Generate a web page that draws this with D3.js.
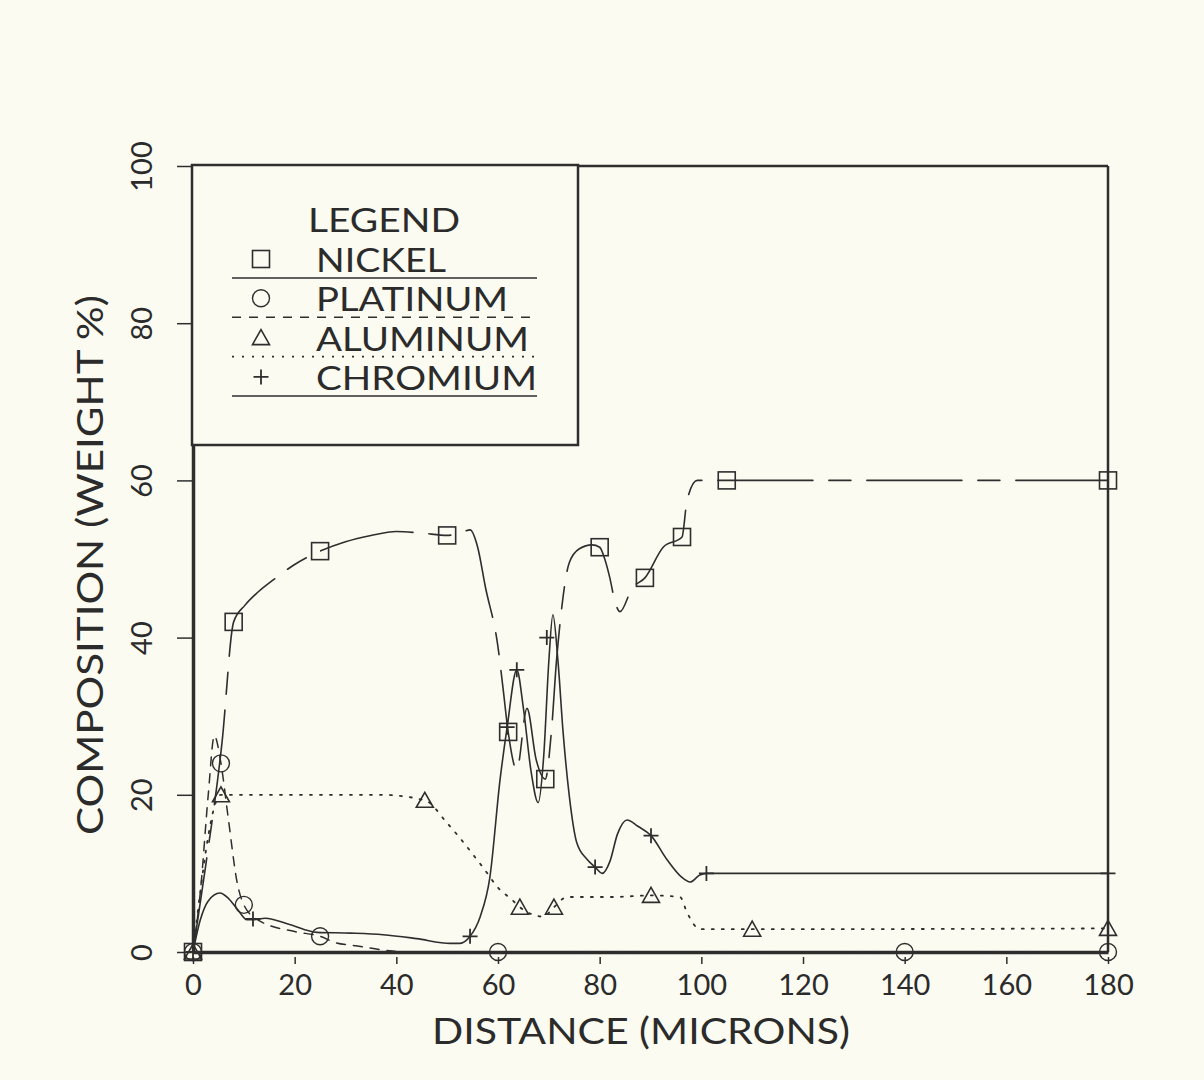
<!DOCTYPE html>
<html>
<head>
<meta charset="utf-8">
<script src="https://cdn.jsdelivr.net/npm/d3@7"></script>
<style>
  html, body { margin: 0; padding: 0; background: #fbfbf1; }
  svg { display: block; }
  text { font-family: Lato, "Noto Sans", sans-serif; fill: #2b2b2b; }
</style>
</head>
<body>
<svg id="chart" width="1204" height="1080"></svg>
<script>
// ---------- data ----------
const xTicks = [0, 20, 40, 60, 80, 100, 120, 140, 160, 180];
const yTicks = [0, 20, 40, 60, 80, 100];
const seriesNames = ["NICKEL", "PLATINUM", "ALUMINUM", "CHROMIUM"];

// measured marker points  [distance, weight %]
const nickelMarkers   = [[0,0],[8,42],[25,51],[50,53],[62,28],[69.3,22],[80,51.5],[88.9,47.6],[96.2,52.8],[105,60],[180,60]];
const platinumMarkers = [[0,0],[5.5,24],[10,6],[25,2],[60,0],[140,0],[180,0]];
const aluminumMarkers = [[0,0],[5.5,20],[45.6,19.3],[64.3,5.7],[71,5.7],[90.1,7.2],[110,2.9],[180,3]];
const chromiumMarkers = [[0,0],[11.8,4.2],[54.5,2],[61.8,28.6],[63.7,35.9],[69.6,40],[79.1,10.8],[90.1,14.8],[101,10],[180,10]];

// traced curve points  [distance, weight %]
const nickelCurve = [[0,0],[2.5,11],[5.7,26.6],[8,42],[10.2,44.1],[12.8,45.8],[15.7,47.3],[20,49.3],[25,51],[30,52.2],[35,53],[40,53.5],[45,53.3],[50,53],
  [52.9,53.4],[54.5,53.7],[56,51.5],[57.5,46.5],[60,38.8],[61,33.5],[62,28],[63.7,23.2],[65.7,31],[67.5,24.5],[69.3,22],
  [70.5,28],[71.5,37],[72.4,43],[74,49.5],[76,51.3],[78.5,51.8],[80,51.5],[81,50],[82,47.6],[83,44.6],[84,43.3],[86.4,46.3],
  [88.9,47.6],[92.5,51.5],[96.2,52.8],[97.2,57.5],[99.2,60],[105,60],[140,60],[180,60]];
const platinumCurve = [[0,0],[1.5,8],[3,20],[4.2,27.5],[5.5,24],[6.9,17.2],[8.7,8.8],[10,6],[13,4],[20,2.6],[25,2],[28,1.2],[32,0.8],[37,0.3],[42,0],[60,0],[140,0],[180,0]];
const aluminumCurve = [[0,0],[5.5,20],[20,20],[37,20],[45.6,19.3],[50,16.4],[57,10.8],[60.4,7.9],[62.5,6.8],[64.3,5.7],[68.9,4.5],[71,5.7],
  [73.6,7],[82.6,7],[90.1,7.2],[95.8,7],[97.2,5],[99.7,2.9],[110,2.9],[180,3]];
const chromiumCurve = [[0,0],[1.4,4],[3,6.5],[5.3,7.5],[7,6.8],[8.9,5.3],[10.6,4.1],[11.8,4.1],[14.2,4.3],[19,3.5],[24.4,2.5],[31,2.4],[37.4,2.2],
  [44,1.7],[50.6,1.1],[52.5,1.1],[54.5,2],[56.5,4.5],[58.4,9.5],[60.4,21.9],[61.8,28.6],[63.7,35.9],[65,31],[66.5,23],[67.9,19],[69,25],
  [70,37],[70.8,42.9],[71.8,37],[72.8,28],[74,20],[75.5,13.9],[77.5,11.8],[79.1,10.8],[80.5,10],[82,11.5],[83.5,15],[85.4,16.8],[87.5,16],
  [90.1,14.8],[93.3,11.7],[96,9.6],[97.8,8.9],[99.7,9.8],[101,10],[140,10],[180,10]];

// ---------- layout ----------
const svg = d3.select("#chart");
const X0 = 193, X1 = 1108, Y0 = 952, Y1 = 166;
const ink = "#2e2e2e";

const x = d3.scaleLinear().domain([0, 180]).range([X0, X1]);
const y = d3.scaleLinear().domain([0, 100]).range([Y0, Y1]);

// frame (top and right)
svg.append("line").attr("x1", X0).attr("x2", X1).attr("y1", Y1).attr("y2", Y1).attr("stroke", ink).attr("stroke-width", 2.5);
svg.append("line").attr("x1", X1).attr("x2", X1).attr("y1", Y1).attr("y2", Y0).attr("stroke", ink).attr("stroke-width", 2.5);

// axes
const xAxis = svg.append("g").attr("transform", `translate(0,${Y0})`)
  .call(d3.axisBottom(x).tickValues(xTicks).tickSize(12).tickPadding(10).tickSizeOuter(0));
const yAxis = svg.append("g").attr("transform", `translate(${X0},0)`)
  .call(d3.axisLeft(y).tickValues(yTicks).tickSize(16).tickSizeOuter(0));
[xAxis, yAxis].forEach(g => {
  g.select(".domain").attr("stroke", ink).attr("stroke-width", 3.5);
  g.selectAll(".tick line").attr("stroke", ink).attr("stroke-width", 1.5);
  g.selectAll(".tick text").style("font-family", "Lato, sans-serif").style("font-size", "29px").attr("fill", "#2b2b2b");
});
xAxis.selectAll(".tick line").attr("y1", 5);
xAxis.selectAll(".tick text").attr("dy", "0.71em");
yAxis.selectAll(".tick text")
  .attr("text-anchor", "middle").attr("dominant-baseline", "central")
  .attr("dy", null).attr("x", 0).attr("y", 0)
  .attr("transform", "translate(-53,0) rotate(-90)");

// axis titles
svg.append("text").attr("x", 641).attr("y", 1044).attr("text-anchor", "middle")
  .attr("textLength", 418).attr("lengthAdjust", "spacingAndGlyphs")
  .style("font-size", "37px").text("DISTANCE (MICRONS)");
svg.append("text").attr("transform", "translate(103,565) rotate(-90)").attr("text-anchor", "middle")
  .attr("textLength", 540).attr("lengthAdjust", "spacingAndGlyphs")
  .style("font-size", "37px").text("COMPOSITION (WEIGHT %)");

// ---------- lines ----------
const line = d3.line().x(d => x(d[0])).y(d => y(d[1])).curve(d3.curveMonotoneX);
const styles = {
  NICKEL:   { dash: "95,16,22,16", width: 1.6 },
  PLATINUM: { dash: "9,8", width: 1.5 },
  ALUMINUM: { dash: "2,8", width: 1.8 },
  CHROMIUM: { dash: null, width: 1.6 }
};
const curves = [nickelCurve, platinumCurve, aluminumCurve, chromiumCurve];
const markers = [nickelMarkers, platinumMarkers, aluminumMarkers, chromiumMarkers];

const plot = svg.append("g");
seriesNames.forEach((name, i) => {
  plot.append("path").datum(curves[i]).attr("d", line).attr("fill", "none")
    .attr("stroke", ink).attr("stroke-width", styles[name].width)
    .attr("stroke-dasharray", styles[name].dash).attr("stroke-linecap", "round");
});

// marker shapes
function drawMarker(g, name, cx, cy) {
  const s = 8.5;
  if (name === "NICKEL") {
    g.append("rect").attr("x", cx - s).attr("y", cy - s).attr("width", 2*s).attr("height", 2*s)
      .attr("fill", "none").attr("stroke", ink).attr("stroke-width", 1.6);
  } else if (name === "PLATINUM") {
    g.append("circle").attr("cx", cx).attr("cy", cy).attr("r", 8.5)
      .attr("fill", "none").attr("stroke", ink).attr("stroke-width", 1.4);
  } else if (name === "ALUMINUM") {
    g.append("path").attr("d", `M${cx-8.5},${cy+7}L${cx+8.5},${cy+7}L${cx},${cy-8}Z`)
      .attr("fill", "none").attr("stroke", ink).attr("stroke-width", 1.6);
  } else {
    g.append("path").attr("d", `M${cx-7.5},${cy}L${cx+7.5},${cy}M${cx},${cy-7.5}L${cx},${cy+7.5}`)
      .attr("stroke", ink).attr("stroke-width", 1.8);
  }
}
seriesNames.forEach((name, i) => {
  markers[i].forEach(d => drawMarker(plot, name, x(d[0]), y(d[1])));
});

// ---------- legend ----------
const lg = svg.append("g");
lg.append("rect").attr("x", 192).attr("y", 165).attr("width", 386).attr("height", 280)
  .attr("fill", "#fbfbf1").attr("stroke", ink).attr("stroke-width", 2.5);
lg.append("text").attr("x", 308).attr("y", 232).attr("textLength", 152).attr("lengthAdjust", "spacingAndGlyphs")
  .style("font-size", "32px").text("LEGEND");
const legendTextW = [130, 192, 213, 221];
seriesNames.forEach((name, i) => {
  const base = 272 + i * 39.3;
  drawMarker(lg, name, 261, base - 13);
  lg.append("text").attr("x", 316).attr("y", base).attr("textLength", legendTextW[i]).attr("lengthAdjust", "spacingAndGlyphs")
    .style("font-size", "32px").text(name);
  lg.append("line").attr("x1", 232).attr("x2", 537).attr("y1", base + 6).attr("y2", base + 6)
    .attr("stroke", ink).attr("stroke-width", name === "ALUMINUM" ? 1.8 : 1.5)
    .attr("stroke-dasharray", name === "PLATINUM" ? "9,8" : (name === "ALUMINUM" ? "2,8" : null));
});
</script>
</body>
</html>
